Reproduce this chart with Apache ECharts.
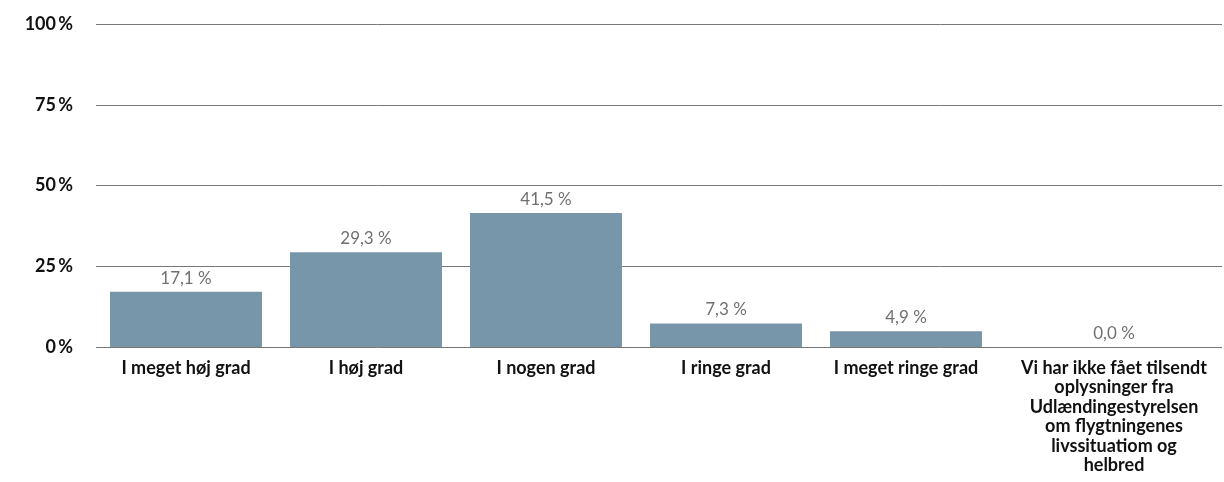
<!DOCTYPE html>
<html>
<head>
<meta charset="utf-8">
<script src="https://cdn.jsdelivr.net/npm/echarts@6/dist/echarts.min.js"></script>
<style>
  html, body { margin: 0; padding: 0; background: #fff; }
  #chart { width: 1224px; height: 482px; }
</style>
</head>
<body>
<div id="chart"></div>
<script>
var categories = [
  'I meget høj grad',
  'I høj grad',
  'I nogen grad',
  'I ringe grad',
  'I meget ringe grad',
  'Vi har ikke fået tilsendt\noplysninger fra\nUdlændingestyrelsen\nom flygtningenes\nlivssituatiom og\nhelbred'
];
var values = [17.1, 29.3, 41.5, 7.3, 4.9, 0.0];
var yTicks = [0, 25, 50, 75, 100];

window.onload = function() {
  var chart = echarts.init(document.getElementById('chart'));

  // last category is wider in the original, nudge its texts right
  var catData = categories.map(function(c, i) {
    if (i == categories.length - 1) {
      return { value: c, textStyle: { padding: [0, 0, 0, 56] } };
    }
    return c;
  });
  var barData = values.map(function(v, i) {
    if (i == values.length - 1) {
      return { value: v, label: { offset: [28, 0] } };
    }
    return v;
  });

  var option = {
    animation: false,
    grid: [
      { left: 96, right: 48, top: 24, bottom: 135 },
      { left: 96, right: 2, top: 24, bottom: 135 }
    ],
    xAxis: [{
      type: 'category',
      gridIndex: 0,
      data: catData,
      axisLine: { show: false },
      axisTick: { show: false },
      axisLabel: {
        interval: 0,
        margin: 11,
        color: '#111',
        fontFamily: 'Lato',
        fontWeight: 'bold',
        fontSize: 18,
        lineHeight: 19.5
      }
    }, {
      type: 'value',
      gridIndex: 1,
      show: false
    }],
    yAxis: [{
      type: 'value',
      gridIndex: 0,
      min: yTicks[0],
      max: yTicks[yTicks.length - 1],
      interval: 25,
      splitLine: { show: false },
      axisLine: { show: false },
      axisTick: { show: false },
      axisLabel: {
        margin: 23,
        color: '#111',
        fontFamily: 'Lato',
        fontWeight: 'bold',
        fontSize: 18,
        formatter: function(v) { return v + '\u2009%'; }
      }
    }, {
      type: 'value',
      gridIndex: 1,
      min: yTicks[0],
      max: yTicks[yTicks.length - 1],
      interval: 25,
      axisLine: { show: false },
      axisTick: { show: false },
      axisLabel: { show: false },
      splitLine: { lineStyle: { color: '#777', width: 1 } }
    }],
    series: [{
      type: 'bar',
      xAxisIndex: 0,
      yAxisIndex: 0,
      data: barData,
      barWidth: 152,
      itemStyle: { color: '#7896aa' },
      label: {
        show: true,
        position: 'top',
        distance: 5,
        color: '#707070',
        fontFamily: 'Lato',
        fontSize: 17,
        formatter: function(p) { return p.value.toFixed(1).replace('.', ',') + ' %'; }
      }
    }]
  };
  chart.setOption(option);
};
</script>
</body>
</html>
